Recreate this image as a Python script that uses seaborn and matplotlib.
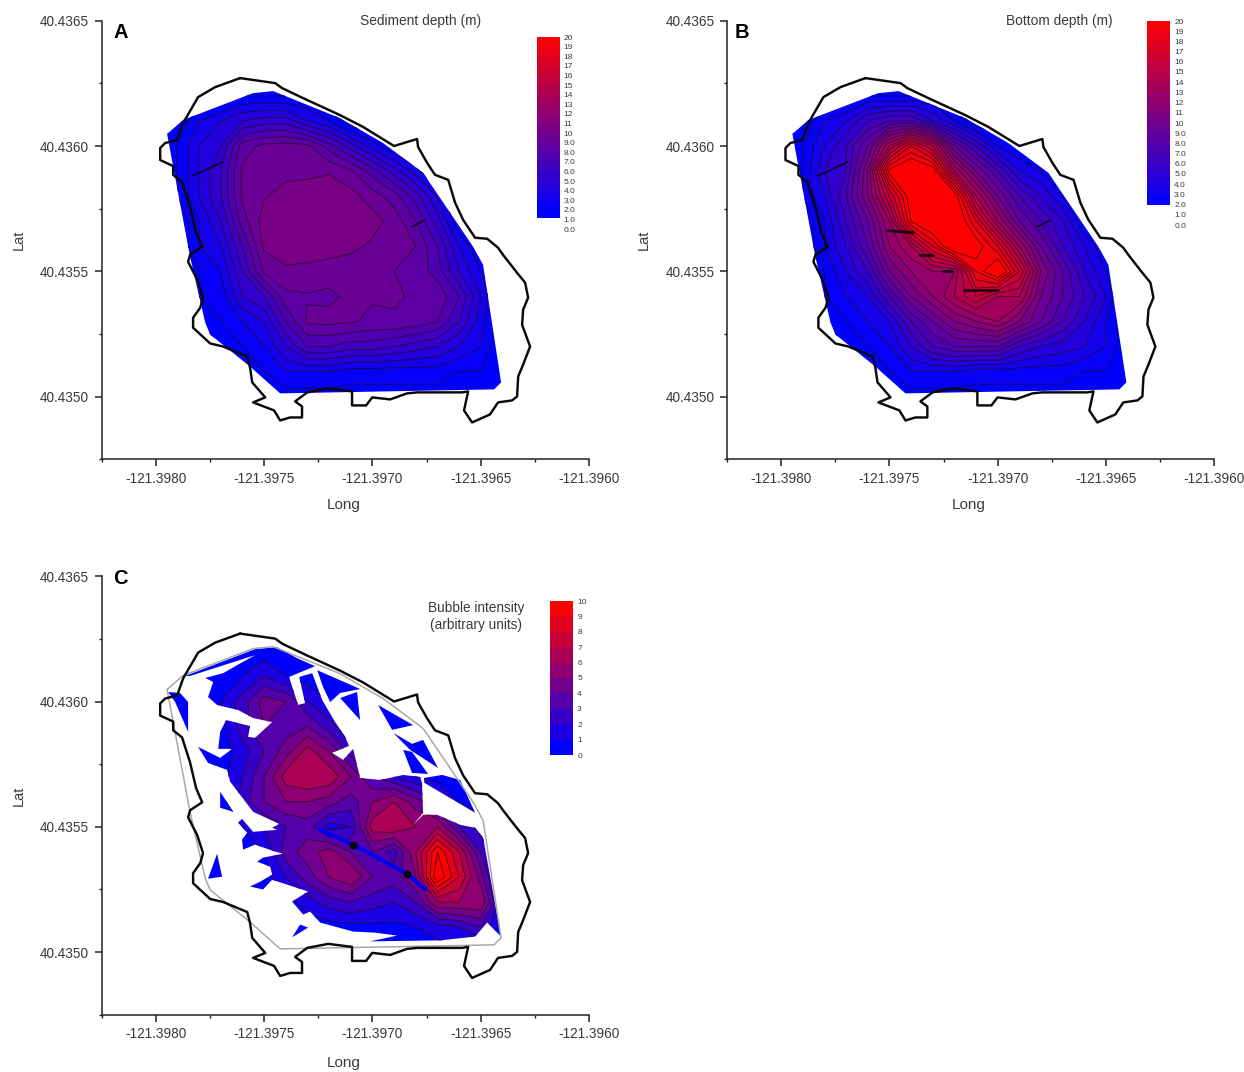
import numpy as np
import matplotlib
matplotlib.use("Agg")
import matplotlib.pyplot as plt
from matplotlib.path import Path
from matplotlib.patches import PathPatch
from matplotlib.colors import Normalize
import pandas as pd
import seaborn as sns

# ---------- DATA ----------
shore_long = [-121.397611,-121.397449,-121.397417,-121.397320,-121.397149,-121.397043,-121.396900,-121.396794,-121.396789,-121.396747,-121.396711,-121.396650,-121.396618,-121.396581,-121.396526,-121.396470,-121.396420,-121.396397,-121.396332,-121.396295,-121.396281,-121.396304,-121.396309,-121.396272,-121.396304,-121.396327,-121.396332,-121.396355,-121.396420,-121.396457,-121.396540,-121.396577,-121.396558,-121.396586,-121.396794,-121.396840,-121.396918,-121.397001,-121.397029,-121.397094,-121.397094,-121.397204,-121.397301,-121.397357,-121.397325,-121.397325,-121.397380,-121.397426,-121.397454,-121.397551,-121.397495,-121.397555,-121.397565,-121.397578,-121.397689,-121.397749,-121.397828,-121.397828,-121.397795,-121.397782,-121.397809,-121.397851,-121.397842,-121.397786,-121.397814,-121.397842,-121.397879,-121.397920,-121.397920,-121.397980,-121.397980,-121.397957,-121.397902,-121.397874,-121.397805,-121.397726,-121.397611]
shore_lat = [40.436271,40.436251,40.436231,40.436191,40.436123,40.436076,40.436000,40.436028,40.435996,40.435932,40.435885,40.435865,40.435773,40.435705,40.435634,40.435630,40.435594,40.435566,40.435494,40.435455,40.435395,40.435347,40.435287,40.435200,40.435128,40.435080,40.435001,40.434985,40.434977,40.434929,40.434897,40.434945,40.435021,40.435017,40.435017,40.435013,40.434989,40.434997,40.434965,40.434965,40.435021,40.435033,40.435017,40.434981,40.434961,40.434917,40.434917,40.434905,40.434945,40.434977,40.434997,40.435057,40.435116,40.435160,40.435200,40.435212,40.435275,40.435315,40.435355,40.435395,40.435467,40.435538,40.435566,40.435598,40.435654,40.435757,40.435857,40.435885,40.435920,40.435944,40.435992,40.436012,40.436024,40.436092,40.436195,40.436235,40.436271]

survey_long = [-121.397948,-121.397874,-121.397551,-121.397458,-121.397149,-121.396951,-121.396766,-121.396650,-121.396535,-121.396489,-121.396406,-121.396438,-121.397426,-121.397565,-121.397749,-121.397772,-121.397842,-121.397948]
survey_lat = [40.436048,40.436104,40.436211,40.436219,40.436111,40.436012,40.435893,40.435745,40.435598,40.435526,40.435057,40.435029,40.435013,40.435120,40.435248,40.435295,40.435558,40.436048]

grid_long = [-121.3980,-121.3979,-121.3978,-121.3977,-121.3976,-121.3975,-121.3974,-121.3973,-121.3972,-121.3971,-121.3970,-121.3969,-121.3968,-121.3967,-121.3966,-121.3965,-121.3964]
grid_lat = [40.4363,40.4362,40.4361,40.4360,40.4359,40.4358,40.4357,40.4356,40.4355,40.4354,40.4353,40.4352,40.4351,40.4350]

sediment_depth = [
 [1,1,1,1,1,1,1,1,1,1,1,1,1,1,1,1,1],
 [1,1,1,1,2,2,2,2,1,1,1,1,1,1,1,1,1],
 [1,1,3,4,5,5.5,5.5,4,3,1,1,1,1,1,1,1,1],
 [1,2,4,5,8.5,9.3,9.5,9.3,7.5,5.5,3.5,2,1,1,1,1,1],
 [1,2,4,6,9.2,9.6,9.7,9.7,9.9,9.2,7.5,5.5,3.5,1,1,1,1],
 [1,2,4,6,9.2,9.9,10.4,10.6,10.6,10.4,9.5,8.5,6.5,4,1,1,1],
 [1,1,3,5,8.5,10.5,10.7,10.7,10.7,10.7,10.4,9.6,8,5.5,2,1,1],
 [1,1,3,4,7,10.2,10.6,10.6,10.6,10.3,9.8,9.5,9,7,4,2,1],
 [1,1,2,3,6,9.2,9.8,9.7,9.4,9.3,9.2,9,8.7,7.5,5,3,1],
 [1,1,2,2.5,5,6,8.7,8.9,8.8,9.2,9.1,9.1,8.9,8.8,7,4,1],
 [1,1,1,2,3,4,7,9.2,9.3,9.1,8.8,8.9,8.6,8,6,3.5,1],
 [1,1,1,1,2,3,5,7,7,6.5,6.5,6,5.5,5,4,3,1],
 [1,1,1,1,1,2,3,3,3,2.5,2.5,2.5,2.5,2.5,2,2,1],
 [1,1,1,1,1,1.5,1.5,1.5,1.5,1.5,1.5,1.5,1.5,1.5,1.5,1.5,1],
]
bottom_depth = [
 [1,1,1,1,1,1,1,1,1,1,1,1,1,1,1,1,1],
 [1,1,1,1,2,2,2,2,1,1,1,1,1,1,1,1,1],
 [1,1,3,4,6,7,7,5,3,1,1,1,1,1,1,1,1],
 [1,2,4,6,9,14,18,15,9,6,3,2,1,1,1,1,1],
 [1,2,5,6,11,20.5,22,21,14,10,7,4,3,1,1,1,1],
 [1,2,4,7,11,16,21,22,21,14,10,7,5,3,1,1,1],
 [1,1,3,6,9,13,20,22,22,18,13,9,7,5,2,1,1],
 [1,1,3,5,8,12,14,18,22,21,18,13,9,6,4,2,1],
 [1,1,2,4,6,10,12,13,13,19,22,17,11,8,5,3,1],
 [1,1,2,3,4,7,10,12,14,16,14,14,10,8,6,4,1],
 [1,1,1,2,3,4,7,9,11,12,13,11,9,7,5,3,1],
 [1,1,1,1,2,3,5,7,8,8,8,6,5,4.5,4,3,1],
 [1,1,1,1,1,2,3,3,3,2.5,2.5,2.5,2.5,2.5,2,2,1],
 [1,1,1,1,1,1.5,1.5,1.5,1.5,1.5,1.5,1.5,1.5,1.5,1.5,1.5,1],
]
bubble_intensity = [
 [.5,.5,.5,.5,.5,.5,.5,.5,.5,.5,.5,.5,.5,.5,.5,.5,.5],
 [.5,.5,.5,.5,.5,.5,.5,.5,.5,.5,.5,.5,.5,.5,.5,.5,.5],
 [.5,.5,.5,1,1,2,1,.5,.5,.5,.5,.5,.5,.5,.5,.5,.5],
 [.5,.5,.5,1,2.5,4.5,4,2,1,.5,.5,.5,.5,.5,.5,.5,.5],
 [.5,.5,.5,.5,2.5,4,3.5,4,2.5,1,.5,.5,.5,.5,.5,.5,.5],
 [.5,.5,.5,.5,1.5,3,4.5,6.5,5,2.5,1,.5,.5,.5,.5,.5,.5],
 [.5,.5,.5,.5,2,4,6.5,7,6.8,5,3,2,1,.5,.5,.5,.5],
 [.5,.5,.5,.5,2.5,4,5,5,4.5,3.5,5,6,4.5,3,1,.5,.5],
 [.5,.5,.5,.5,1,2,3,3.5,1.5,2,6.5,7,6,6,3,1.5,.5],
 [.5,.5,.5,.5,.5,1,3.5,4.5,5.5,4,4,2.5,6,10,7,3,.5],
 [.5,.5,.5,.5,.5,.5,2,3.5,5,6,4,3.5,5,11,8,4.5,.5],
 [.5,.5,.5,.5,.5,.5,.5,1.5,2.5,3,2.5,2,3,6,6,6,1],
 [.5,.5,.5,.5,.5,.5,.5,.5,.5,.7,.7,.7,1,1.5,2,3,.5],
 [.5,.5,.5,.5,.5,.5,.5,.5,.5,.5,.5,.5,.5,.5,.5,.5,.5],
]

bubble_body_long = [-121.397865,-121.397542,-121.397440,-121.397348,-121.397265,-121.397385,-121.397343,-121.397311,-121.397338,-121.397278,-121.397232,-121.397172,-121.397126,-121.397108,-121.397186,-121.397135,-121.397089,-121.397057,-121.396964,-121.396858,-121.396780,-121.396771,-121.396766,-121.396812,-121.396766,-121.396701,-121.396595,-121.396526,-121.396489,-121.396406,-121.396470,-121.396526,-121.396687,-121.397011,-121.396886,-121.396988,-121.397089,-121.397241,-121.397288,-121.397320,-121.397371,-121.397297,-121.397463,-121.397505,-121.397565,-121.397518,-121.397463,-121.397472,-121.397532,-121.397505,-121.397412,-121.397449,-121.397542,-121.397597,-121.397602,-121.397578,-121.397620,-121.397602,-121.397551,-121.397440,-121.397463,-121.397431,-121.397551,-121.397611,-121.397657,-121.397671,-121.397759,-121.397805,-121.397703,-121.397648,-121.397712,-121.397703,-121.397675,-121.397565,-121.397574,-121.397542,-121.397463,-121.397551,-121.397620,-121.397717,-121.397759,-121.397735,-121.397772,-121.397689,-121.397625,-121.397542,-121.397842]
bubble_body_lat = [40.436102,40.436209,40.436217,40.436173,40.436141,40.436098,40.435986,40.435994,40.436098,40.436113,40.436006,40.435918,40.435859,40.435823,40.435795,40.435767,40.435811,40.435695,40.435687,40.435707,40.435699,40.435676,40.435556,40.435508,40.435548,40.435548,40.435508,40.435496,40.435457,40.435062,40.435118,40.435062,40.435047,40.435043,40.435066,40.435078,40.435082,40.435118,40.435162,40.435150,40.435202,40.435242,40.435289,40.435250,40.435262,40.435281,40.435309,40.435341,40.435361,40.435377,40.435393,40.435401,40.435429,40.435409,40.435449,40.435477,40.435516,40.435532,40.435480,40.435488,40.435496,40.435512,40.435560,40.435628,40.435680,40.435727,40.435755,40.435819,40.435775,40.435811,40.435811,40.435879,40.435926,40.435902,40.435859,40.435855,40.435918,40.435934,40.435966,40.435986,40.436018,40.436078,40.436094,40.436113,40.436145,40.436185,40.436102]
bubble_islands_long = [
 [-121.397943,-121.397888,-121.397851,-121.397851,-121.397911],
 [-121.397255,-121.397057,-121.397149,-121.397195,-121.397228],
 [-121.397149,-121.397071,-121.397057],
 [-121.396974,-121.396812,-121.396909],
 [-121.396904,-121.396817,-121.396766,-121.396697,-121.396826],
 [-121.396858,-121.396817,-121.396743,-121.396817],
 [-121.396761,-121.396678,-121.396595,-121.396526,-121.396761],
 [-121.397703,-121.397643,-121.397703],
 [-121.397717,-121.397694,-121.397759],
 [-121.397334,-121.397297,-121.397371],
]
bubble_islands_lat = [
 [40.436038,40.436034,40.435998,40.435879,40.435998],
 [40.436125,40.436050,40.436034,40.435998,40.436058],
 [40.436014,40.436038,40.435926],
 [40.435986,40.435906,40.435887],
 [40.435875,40.435831,40.435847,40.435735,40.435807],
 [40.435807,40.435799,40.435711,40.435715],
 [40.435695,40.435707,40.435687,40.435556,40.435676],
 [40.435640,40.435560,40.435576],
 [40.435393,40.435301,40.435293],
 [40.435110,40.435098,40.435059],
]

# narrow pits where contours bunch into dark specks
pit_long_shared = [[-121.397832,-121.397772,-121.397694],[-121.396817,-121.396757]]
pit_lat_shared = [[40.435881,40.435904,40.435936],[40.435678,40.435705]]
pit_long_bottom = [[-121.397505,-121.397389],[-121.397357,-121.397297],[-121.397251,-121.397209],[-121.397158,-121.397001]]
pit_lat_bottom = [[40.435662,40.435654],[40.435566,40.435566],[40.435502,40.435502],[40.435427,40.435427]]
crack_long = [-121.397241,-121.397089,-121.396840,-121.396757]
crack_lat = [40.435488,40.435429,40.435313,40.435250]
crack_spot_long = [-121.397089,-121.396840]
crack_spot_lat = [40.435429,40.435313]

x_major = [-121.3980,-121.3975,-121.3970,-121.3965,-121.3960]
x_labels = ["-121.3980","-121.3975","-121.3970","-121.3965","-121.3960"]
x_minor = [-121.39825,-121.39775,-121.39725,-121.39675,-121.39625]
y_major = [40.4350,40.4355,40.4360,40.4365]
y_labels = ["40.4350","40.4355","40.4360","40.4365"]
y_minor = [40.43475,40.43525,40.43575,40.43625]
depth_levels = list(range(0,21))
depth_labels = ["0.0","1.0","2.0","3.0","4.0","5.0","6.0","7.0","8.0","9.0","10","11","12","13","14","15","16","17","18","19","20"]
bubble_levels = list(range(0,11))
bubble_labels = ["0","1","2","3","4","5","6","7","8","9","10"]

# ---------- STYLE ----------
sns.set_theme(style="ticks")
plt.rcParams["font.family"] = ["Liberation Sans", "DejaVu Sans"]
W, H = 1244, 1072
TXT = "#3a3a3a"
cmap = sns.blend_palette(["#0000ff", "#ff0000"], as_cmap=True)
fig = plt.figure(figsize=(W/100, H/100), dpi=100, facecolor="white")


def axes_px(l, t, r, b):
    return fig.add_axes([l/W, 1-b/H, (r-l)/W, (b-t)/H])


def closed_path(longs, lats):
    verts = list(zip(longs, lats)) + [(longs[0], lats[0])]
    codes = [Path.MOVETO] + [Path.LINETO]*(len(longs)-1) + [Path.CLOSEPOLY]
    return verts, codes


def map_panel(l, t, field, levels, norm, clip_path, letter, letter_xy, xlabel_y):
    ax = axes_px(l, t, l+487.3, t+438.6)
    ax.set_xlim(-121.39825, -121.3960)
    ax.set_ylim(40.43475, 40.4365)
    patch = PathPatch(clip_path, transform=ax.transData, fc="none", ec="none")
    ax.add_patch(patch)
    X, Y = np.meshgrid(grid_long, grid_lat)
    Z = np.array(field, dtype=float)
    cf = ax.contourf(X, Y, Z, levels=levels, cmap=cmap, norm=norm, extend="max")
    cl = ax.contour(X, Y, Z, levels=levels, colors="#101018", linewidths=0.55, alpha=0.8)
    cf.set_clip_path(patch)
    cl.set_clip_path(patch)
    sns.lineplot(data=pd.DataFrame({"long": shore_long, "lat": shore_lat}), x="long", y="lat",
                 sort=False, estimator=None, color="#0a0a0a", lw=1.75, ax=ax, zorder=5)
    sns.despine(ax=ax)
    for s in ("left", "bottom"):
        ax.spines[s].set_linewidth(1.1)
        ax.spines[s].set_color("#222222")
    ax.set_xticks(x_major, x_labels)
    ax.set_yticks(y_major, y_labels)
    ax.set_xticks(x_minor, minor=True)
    ax.set_yticks(y_minor, minor=True)
    ax.tick_params(which="major", length=5, width=1.1, color="#222222", labelsize=9.8,
                   labelcolor=TXT, pad=4)
    ax.tick_params(which="minor", length=2.5, width=1.0, color="#222222")
    ax.set_xlabel("")
    ax.set_ylabel("")
    fig.text((l+241.5)/W, 1-xlabel_y/H, "Long", ha="center", va="center", fontsize=11, color=TXT)
    fig.text((l-83)/W, 1-(t+219.5)/H, "Lat", ha="center", va="center", rotation=90, fontsize=10.5, color=TXT)
    fig.text(letter_xy[0]/W, 1-letter_xy[1]/H, letter, ha="center", va="center",
             fontsize=14.5, fontweight="bold", color="black")
    return ax


def scale_bar(l, r, t, b, levels, labels, low, norm):
    ax = axes_px(l, t, r, b)
    top = levels[-1]
    edges = np.array([low] + [v for v in levels if v > low], dtype=float)
    mids = (edges[:-1] + edges[1:]) / 2
    ax.set_xlim(0, 1)
    ax.set_ylim(levels[0], top)
    ax.pcolormesh([0, 1], edges, mids[:, None], cmap=cmap, norm=norm, shading="flat")
    for s in ax.spines.values():
        s.set_visible(False)
    ax.set_xticks([])
    ax.yaxis.tick_right()
    ax.set_yticks(levels, labels)
    ax.tick_params(axis="y", length=0, pad=3, labelsize=6, labelcolor=TXT)
    ax.set_ylabel("")


def pits(ax, longs, lats, lw=1.2):
    for lo, la in zip(longs, lats):
        ax.plot(lo, la, color="#08000f", lw=lw, alpha=0.85, zorder=3, solid_capstyle="round")


depth_norm = Normalize(2, 20)
bubble_norm = Normalize(0.5, 9.5)
survey_verts, survey_codes = closed_path(survey_long[:-1], survey_lat[:-1])
survey_path = Path(survey_verts, survey_codes)

verts, codes = closed_path(bubble_body_long, bubble_body_lat)
for lo, la in zip(bubble_islands_long, bubble_islands_lat):
    v, c = closed_path(lo, la)
    verts += v
    codes += c
bubble_path = Path(verts, codes)

axa = map_panel(101.7, 20.7, sediment_depth, list(range(0, 21)), depth_norm, survey_path, "A", (121, 32), 505)
axb = map_panel(727, 20.7, bottom_depth, list(range(0, 21)), depth_norm, survey_path, "B", (742, 32), 505)
axc = map_panel(101.7, 576.2, bubble_intensity, list(range(0, 11)), bubble_norm, bubble_path, "C", (120, 578), 1063)
axc.plot(survey_long, survey_lat, color="#a8a8a8", lw=1.1, zorder=4)
pits(axa, pit_long_shared, pit_lat_shared)
pits(axb, pit_long_shared, pit_lat_shared)
pits(axb, pit_long_bottom, pit_lat_bottom, lw=2.0)
axc.plot(crack_long, crack_lat, color="#0000ee", lw=3, zorder=3)
axc.scatter(crack_spot_long, crack_spot_lat, s=22, color="#05000a", zorder=3)

scale_bar(537, 559.5, 37, 229, depth_levels, depth_labels, 1.1, depth_norm)
scale_bar(1147, 1170, 21, 225, depth_levels, depth_labels, 2.0, depth_norm)
scale_bar(549.5, 573, 601, 755, bubble_levels, bubble_labels, 0, bubble_norm)

fig.text(420.5/W, 1-20.5/H, "Sediment depth (m)", ha="center", va="center", fontsize=9.9, color=TXT)
fig.text(1059.5/W, 1-20.5/H, "Bottom depth (m)", ha="center", va="center", fontsize=9.9, color=TXT)
fig.text(476/W, 1-608/H, "Bubble intensity", ha="center", va="center", fontsize=9.8, color=TXT)
fig.text(476/W, 1-625/H, "(arbitrary units)", ha="center", va="center", fontsize=9.8, color=TXT)

fig.savefig("out.png", dpi=100, facecolor="white")
